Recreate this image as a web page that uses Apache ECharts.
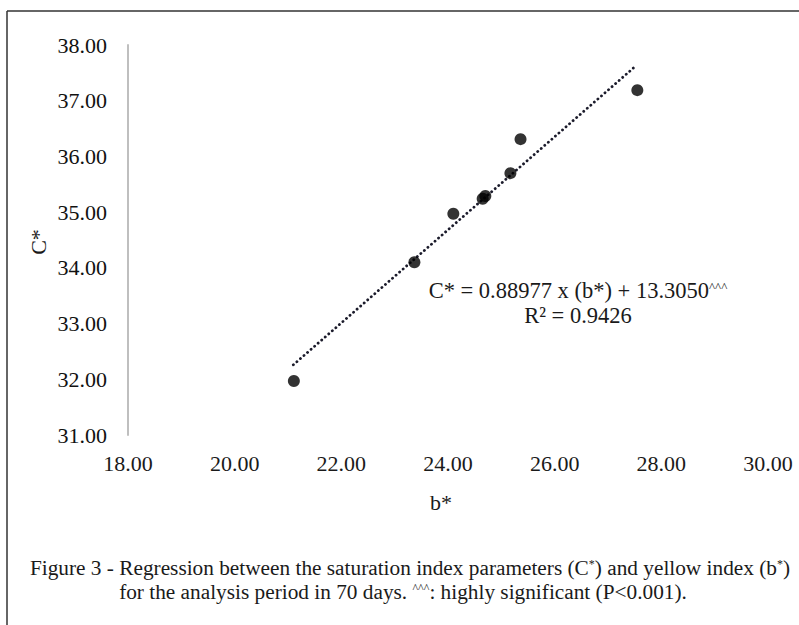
<!DOCTYPE html>
<html>
<head>
<meta charset="utf-8">
<script src="https://cdn.jsdelivr.net/npm/echarts@6/dist/echarts.min.js"></script>
<style>
html,body{margin:0;padding:0;background:#fff;}
#chart{width:799px;height:625px;}
</style>
</head>
<body>
<div id="chart"></div>
<script>
// b* values (x) and C* values (y)
const bValues = [21.11, 23.37, 24.10, 24.65, 24.70, 25.17, 25.36, 27.55];
const cValues = [31.97, 34.10, 34.97, 35.24, 35.29, 35.70, 36.31, 37.19];
// trend line endpoints as drawn
const trendB = [21.10, 27.48];
const trendC = [32.26, 37.59];
// axis ranges
const xRange = {min: 18, max: 30, interval: 2};
const yRange = {min: 31, max: 38, interval: 1};
const xTitle = 'b*';
const yTitle = 'C*';
const eqLine1 = 'C* = 0.88977 x (b*) + 13.3050';
const eqLine2 = 'R² = 0.9426';
const captionLine1 = 'Figure 3 - Regression between the saturation index parameters (C{s|*}) and yellow index (b{s|*})';
const captionLine2 = 'for the analysis period in 70 days. {s|^^^}: highly significant (P<0.001).';

const FONT = '"Liberation Serif", "Times New Roman", serif';

const chart = echarts.init(document.getElementById('chart'), null, {renderer: 'svg'});

const points = bValues.map((b, i) => [b, cValues[i]]);
const trend = trendB.map((b, i) => [b, trendC[i]]);

const capRich = {s: {fontFamily: FONT, fontSize: 12, fill: '#1a1a1a', padding: [0,0,8,0]}};

chart.setOption({
  backgroundColor: '#fff',
  animation: false,
  grid: {left: 128, right: 31, top: 45, bottom: 190},
  xAxis: {
    type: 'value',
    min: xRange.min, max: xRange.max, interval: xRange.interval,
    axisLine: {show: false},
    axisTick: {show: false},
    splitLine: {show: false},
    axisLabel: {
      margin: 17,
      fontFamily: FONT, fontSize: 22, color: '#1a1a1a',
      formatter: v => v.toFixed(2)
    }
  },
  yAxis: {
    type: 'value',
    min: yRange.min, max: yRange.max, interval: yRange.interval,
    axisLine: {show: true, lineStyle: {color: '#bfbfbf', width: 2}},
    axisTick: {show: false},
    splitLine: {show: false},
    axisLabel: {
      margin: 21,
      fontFamily: FONT, fontSize: 22, color: '#111',
      formatter: v => v.toFixed(2)
    }
  },
  series: [
    {
      type: 'line',
      data: trend,
      symbol: 'none',
      lineStyle: {color: '#1b1b2b', width: 2.8, type: [0.1, 4.6], cap: 'round'},
      z: 2
    },
    {
      type: 'scatter',
      data: points,
      symbol: 'circle',
      symbolSize: 12,
      itemStyle: {color: '#000'},
      z: 3
    }
  ],
  graphic: [
    {type: 'line', shape: {x1: 7, y1: 11, x2: 799, y2: 11}, style: {stroke: '#333', lineWidth: 1.5}},
    {type: 'line', shape: {x1: 7, y1: 11, x2: 7, y2: 625}, style: {stroke: '#333', lineWidth: 1.5}},
    {type: 'text', x: 441, y: 502, style: {text: xTitle, font: '22px ' + FONT, fill: '#1a1a1a', align: 'center', verticalAlign: 'middle'}},
    {type: 'text', x: 38, y: 242, rotation: Math.PI / 2, style: {text: yTitle, font: '22px ' + FONT, fill: '#1a1a1a', align: 'center', verticalAlign: 'middle'}},
    {type: 'text', x: 578, y: 290, style: {
      text: eqLine1 + '{c|^^^}',
      font: '22.5px ' + FONT, fill: '#1a1a1a', align: 'center', verticalAlign: 'middle',
      rich: {c: {fontFamily: FONT, fontSize: 13, fill: '#1a1a1a', padding: [0,0,8,0]}}
    }},
    {type: 'text', x: 578, y: 315, style: {
      text: eqLine2, font: '22.5px ' + FONT, fill: '#1a1a1a', align: 'center', verticalAlign: 'middle'
    }},
    {type: 'text', x: 410, y: 568, style: {
      text: captionLine1, font: '21.3px ' + FONT, fill: '#1a1a1a', align: 'center', verticalAlign: 'middle', rich: capRich
    }},
    {type: 'text', x: 403, y: 592, style: {
      text: captionLine2, font: '21.3px ' + FONT, fill: '#1a1a1a', align: 'center', verticalAlign: 'middle', rich: capRich
    }}
  ]
});
</script>
</body>
</html>
